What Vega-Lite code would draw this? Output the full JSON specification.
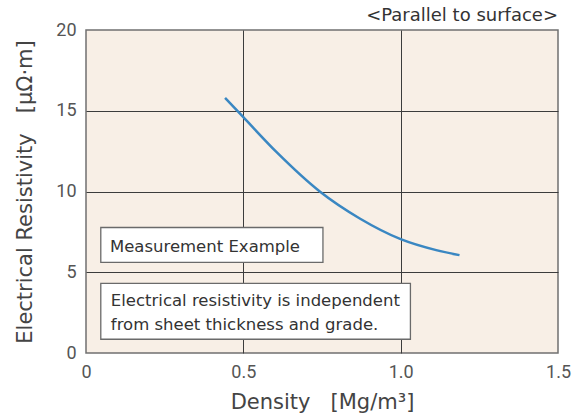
{
  "$schema": "https://vega.github.io/schema/vega-lite/v6.json",
  "width": 472,
  "height": 323,
  "autosize": "none",
  "padding": {"left": 86, "top": 30, "right": 15, "bottom": 63},
  "background": "white",
  "title": {
    "text": "<Parallel to surface>",
    "anchor": "end",
    "frame": "group",
    "offset": -4,
    "fontSize": 18,
    "fontWeight": "normal",
    "font": "DejaVu Sans",
    "color": "#333333"
  },
  "config": {
    "view": {"fill": "#f8efe6", "stroke": "#707070", "strokeWidth": 1.5},
    "axis": {
      "domain": false,
      "ticks": false,
      "labelFont": "Roboto",
      "labelFontSize": 18,
      "labelColor": "#555555",
      "labelFlush": false,
      "titleFont": "DejaVu Sans",
      "titleFontWeight": "normal",
      "titleFontSize": 21,
      "titleColor": "#444444",
      "gridColor": "#3c3c3c",
      "gridWidth": 1
    }
  },
  "datasets": {
    "curve": [
      {"density": 0.442, "resistivity": 15.8},
      {"density": 0.5, "resistivity": 14.6},
      {"density": 0.605, "resistivity": 12.45},
      {"density": 0.743, "resistivity": 10.0},
      {"density": 0.87, "resistivity": 8.33},
      {"density": 1.0, "resistivity": 7.05},
      {"density": 1.113, "resistivity": 6.37},
      {"density": 1.187, "resistivity": 6.06}
    ],
    "boxes": [
      {"x": 0.047, "x2": 0.753, "y": 5.61, "y2": 7.77},
      {"x": 0.047, "x2": 1.031, "y": 0.85, "y2": 4.31}
    ],
    "notes": [
      {"x": 0.076, "y": 6.26, "label": "Measurement Example"},
      {"x": 0.079, "y": 2.91, "label": "Electrical resistivity is independent"},
      {"x": 0.079, "y": 1.42, "label": "from sheet thickness and grade."}
    ]
  },
  "layer": [
    {
      "data": {"name": "curve"},
      "mark": {"type": "line", "interpolate": "monotone", "color": "#3a87c2", "strokeWidth": 2.5},
      "encoding": {
        "x": {
          "field": "density", "type": "quantitative",
          "scale": {"domain": [0, 1.5], "nice": false},
          "axis": {
            "values": [0, 0.5, 1, 1.5],
            "labelExpr": "datum.value == 0 ? '0' : format(datum.value, '.1f')",
            "labelPadding": 10,
            "title": "Density \u00a0\u00a0[Mg/m³]",
            "titlePadding": 10,
            "gridOpacity": {"condition": {"test": "datum.value == 0 || datum.value == 1.5", "value": 0}, "value": 1}
          }
        },
        "y": {
          "field": "resistivity", "type": "quantitative",
          "scale": {"domain": [0, 20], "nice": false},
          "axis": {
            "values": [0, 5, 10, 15, 20],
            "labelPadding": 10,
            "title": "Electrical Resistivity \u00a0\u00a0[μΩ·m]",
            "titlePadding": 20,
            "gridOpacity": {"condition": {"test": "datum.value == 0 || datum.value == 20", "value": 0}, "value": 1}
          }
        }
      }
    },
    {
      "data": {"name": "boxes"},
      "mark": {"type": "rect", "fill": "white", "stroke": "#6a6a6a", "strokeWidth": 1.3},
      "encoding": {
        "x": {"field": "x", "type": "quantitative"},
        "x2": {"field": "x2"},
        "y": {"field": "y", "type": "quantitative"},
        "y2": {"field": "y2"}
      }
    },
    {
      "data": {"name": "notes"},
      "mark": {"type": "text", "align": "left", "baseline": "alphabetic", "font": "DejaVu Sans", "fontSize": 16.5, "color": "#333333"},
      "encoding": {
        "x": {"field": "x", "type": "quantitative"},
        "y": {"field": "y", "type": "quantitative"},
        "text": {"field": "label"}
      }
    }
  ]
}
